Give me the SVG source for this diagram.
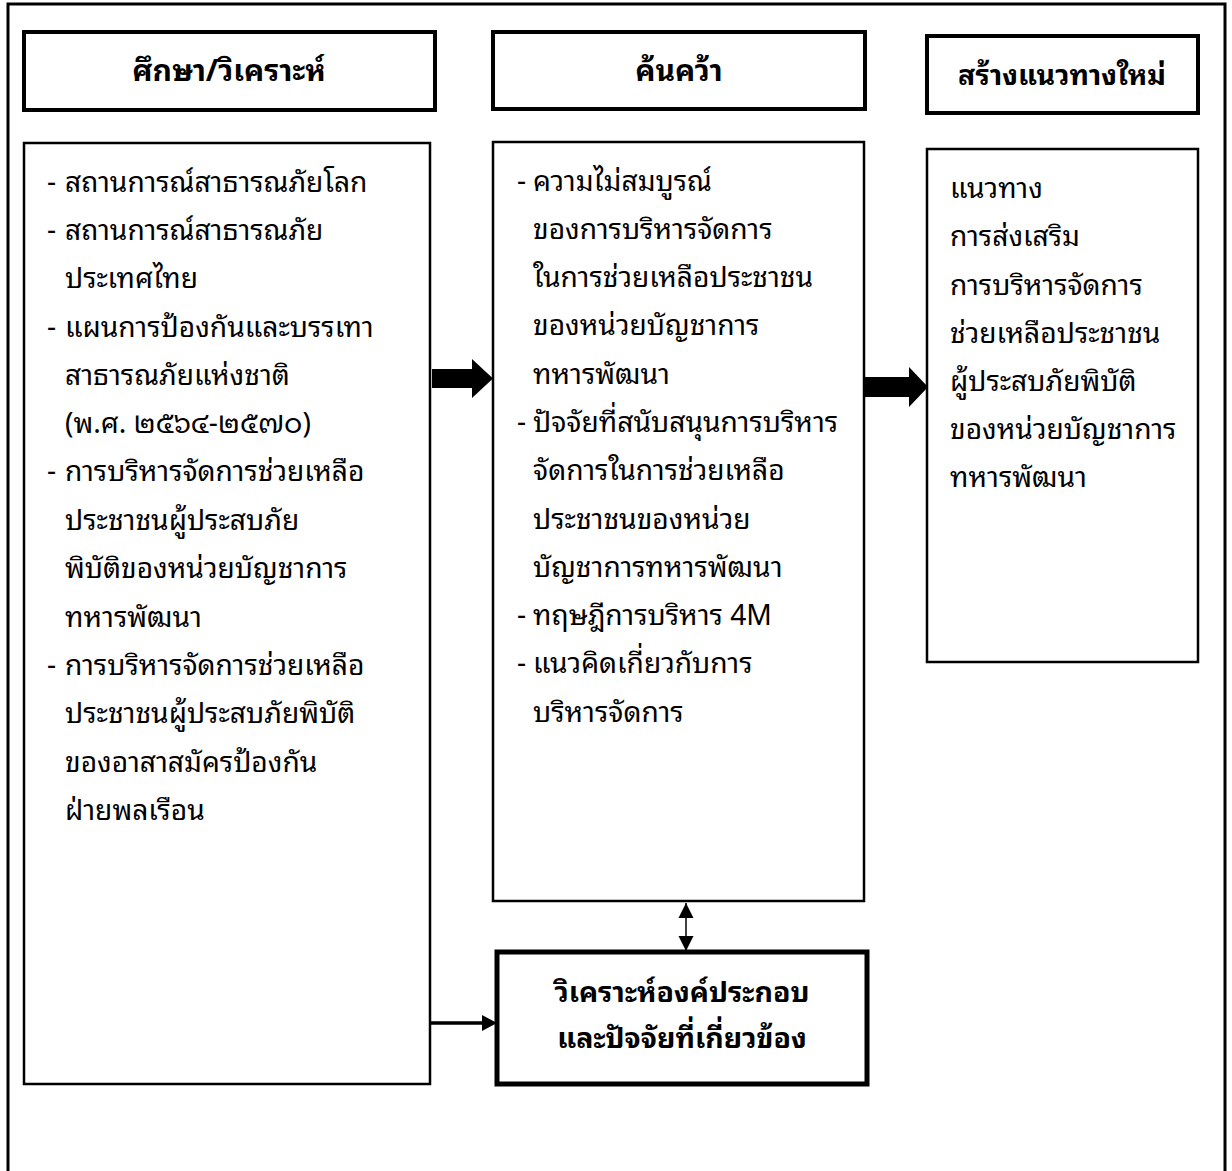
<svg xmlns="http://www.w3.org/2000/svg" width="1232" height="1171" viewBox="0 0 1232 1171">
<defs>
<style>
.frame{fill:none;stroke:#000;stroke-width:3}
.hdr{fill:#fff;stroke:#000;stroke-width:4}
.box{fill:#fff;stroke:#000;stroke-width:2.5}
.boxb{fill:#fff;stroke:#000;stroke-width:5}
text{font-family:"Noto Sans Thai Looped","Noto Sans Thai","Noto Sans","DejaVu Sans",sans-serif;font-size:28.2px;fill:#000}
.h{font-weight:bold;text-anchor:middle;font-size:30px}
.hb{font-weight:bold;text-anchor:middle;font-size:28.5px}
</style>
<marker id="ah" viewBox="0 0 10 10" refX="10" refY="5" markerWidth="15" markerHeight="17" markerUnits="userSpaceOnUse" orient="auto-start-reverse">
<path d="M0,0 L10,5 L0,10 z" fill="#000"/>
</marker>
</defs>
<rect width="1232" height="1171" fill="#fff"/>
<rect class="frame" x="8" y="4" width="1217" height="1180"/>

<g id="header-study">
<rect class="hdr" x="24" y="32" width="411" height="78"/>
<text class="h" x="229" y="81">ศึกษา/วิเคราะห์</text>
</g>
<g id="header-research">
<rect class="hdr" x="493" y="32" width="372" height="77"/>
<text class="h" x="679" y="81">ค้นคว้า</text>
</g>
<g id="header-new">
<rect class="hdr" x="927" y="36" width="271" height="77"/>
<text class="h" x="1062" y="85" style="font-size:28.5px">สร้างแนวทางใหม่</text>
</g>

<g id="box-study">
<rect class="box" x="24" y="143" width="406" height="941"/>
<text x="47" y="192">-</text><text x="65" y="192">สถานการณ์สาธารณภัยโลก</text>
<text x="47" y="240">-</text><text x="65" y="240">สถานการณ์สาธารณภัย</text>
<text x="65" y="288">ประเทศไทย</text>
<text x="47" y="337">-</text><text x="65" y="337">แผนการป้องกันและบรรเทา</text>
<text x="65" y="385">สาธารณภัยแห่งชาติ</text>
<text x="65" y="433">(พ.ศ. ๒๕๖๔-๒๕๗๐)</text>
<text x="47" y="481">-</text><text x="65" y="481">การบริหารจัดการช่วยเหลือ</text>
<text x="65" y="530">ประชาชนผู้ประสบภัย</text>
<text x="65" y="578">พิบัติของหน่วยบัญชาการ</text>
<text x="65" y="627">ทหารพัฒนา</text>
<text x="47" y="675">-</text><text x="65" y="675">การบริหารจัดการช่วยเหลือ</text>
<text x="65" y="723">ประชาชนผู้ประสบภัยพิบัติ</text>
<text x="65" y="772">ของอาสาสมัครป้องกัน</text>
<text x="65" y="820">ฝ่ายพลเรือน</text>
</g>

<g id="box-research">
<rect class="box" x="493" y="142" width="371" height="759"/>
<text x="517" y="191">-</text><text x="533" y="191">ความไม่สมบูรณ์</text>
<text x="533" y="239">ของการบริหารจัดการ</text>
<text x="533" y="287">ในการช่วยเหลือประชาชน</text>
<text x="533" y="335">ของหน่วยบัญชาการ</text>
<text x="533" y="384">ทหารพัฒนา</text>
<text x="517" y="432">-</text><text x="533" y="432">ปัจจัยที่สนับสนุนการบริหาร</text>
<text x="533" y="480">จัดการในการช่วยเหลือ</text>
<text x="533" y="529">ประชาชนของหน่วย</text>
<text x="533" y="577">บัญชาการทหารพัฒนา</text>
<text x="517" y="625">-</text><text x="533" y="625">ทฤษฎีการบริหาร 4M</text>
<text x="517" y="673">-</text><text x="533" y="673">แนวคิดเกี่ยวกับการ</text>
<text x="533" y="722">บริหารจัดการ</text>
</g>

<g id="box-new">
<rect class="box" x="927" y="149" width="271" height="513"/>
<text x="950" y="198">แนวทาง</text>
<text x="950" y="246">การส่งเสริม</text>
<text x="950" y="295">การบริหารจัดการ</text>
<text x="950" y="343">ช่วยเหลือประชาชน</text>
<text x="950" y="391">ผู้ประสบภัยพิบัติ</text>
<text x="950" y="439">ของหน่วยบัญชาการ</text>
<text x="950" y="487">ทหารพัฒนา</text>
</g>

<g id="box-analysis">
<rect class="boxb" x="497" y="952" width="370" height="132"/>
<text class="hb" x="682" y="1002">วิเคราะห์องค์ประกอบ</text>
<text class="hb" x="682" y="1048">และปัจจัยที่เกี่ยวข้อง</text>
</g>

<g id="connectors">
<polygon points="432,369 472,369 472,359 493,378.5 472,398 472,388 432,388" fill="#000"/>
<polygon points="865,377 909,377 909,367 928,387 909,407 909,397 865,397" fill="#000"/>
<line x1="686" y1="903" x2="686" y2="951" stroke="#000" stroke-width="1.5" marker-start="url(#ah)" marker-end="url(#ah)"/>
<line x1="431" y1="1023" x2="484" y2="1023" stroke="#000" stroke-width="3.5"/>
<polygon points="482,1015 497,1023 482,1031" fill="#000"/>
</g>
</svg>
